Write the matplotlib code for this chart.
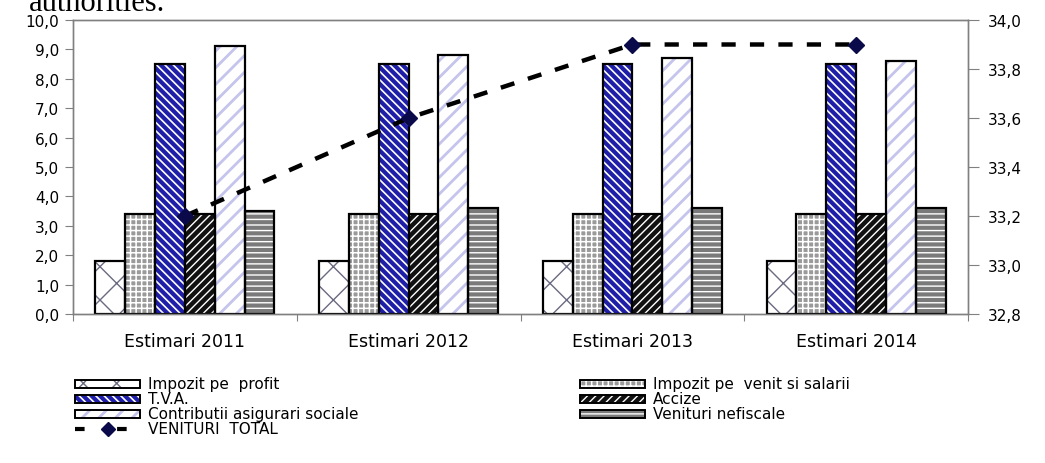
import matplotlib
matplotlib.use("Agg")
import matplotlib.pyplot as plt
from matplotlib.patches import Rectangle
from matplotlib.lines import Line2D
from matplotlib.ticker import FuncFormatter, FixedLocator
import numpy as np

categories = ["Estimari 2011", "Estimari 2012", "Estimari 2013", "Estimari 2014"]
impozit_profit = [1.8, 1.8, 1.8, 1.8]
impozit_venit = [3.4, 3.4, 3.4, 3.4]
tva = [8.5, 8.5, 8.5, 8.5]
accize = [3.4, 3.4, 3.4, 3.4]
contributii = [9.1, 8.8, 8.7, 8.6]
venituri_nefiscale = [3.5, 3.6, 3.6, 3.6]
venituri_total = [33.2, 33.6, 33.9, 33.9]

series_names = ["Impozit pe  profit", "Impozit pe  venit si salarii", "T.V.A.",
                "Accize", "Contributii asigurari sociale", "Venituri nefiscale"]
line_name = "VENITURI  TOTAL"

plt.rcParams['font.family'] = ['DejaVu Sans']

W, H = 1045, 464
fig = plt.figure(figsize=(W / 100, H / 100), dpi=100)
ax = fig.add_axes([73 / W, 1 - 315 / H, (968 - 73) / W, (315 - 21) / H])
ax2 = ax.twinx()

# (face, hatch colour, hatch, hatch linewidth)
styles = [
    ("white", "#6a6a80", "x", 1.0),
    ("#9a9a9a", "white", "+++", 1.1),
    ("#1e1ea8", "white", "\\\\\\\\", 1.2),
    ("#111111", "white", "////", 1.0),
    ("white", "#c4c4ec", "//", 2.0),
    ("#7a7a7a", "white", "---", 1.0),
]
data = [impozit_profit, impozit_venit, tva, accize, contributii, venituri_nefiscale]


def hatched(artist, hlw):
    if hasattr(artist, "set_hatch_linewidth"):
        artist.set_hatch_linewidth(hlw)


x = np.arange(len(categories))
w = 0.8 / 6
for i, (vals, (fc, hc, h, hlw)) in enumerate(zip(data, styles)):
    pos = x + (i - 2.5) * w
    with plt.rc_context({'hatch.linewidth': hlw}):
        bars = ax.bar(pos, vals, w, color=fc, edgecolor=hc, hatch=h, linewidth=0, zorder=2)
    for b in bars:
        hatched(b, hlw)
    ax.bar(pos, vals, w, fill=False, edgecolor="black", linewidth=1.6, zorder=3)

ax.set_xlim(-0.5, 3.5)
ax.set_ylim(0, 10)
ax.set_yticks(np.arange(0, 10.01, 1.0))
fmt = FuncFormatter(lambda v, p: f"{v:.1f}".replace(".", ","))
ax.yaxis.set_major_formatter(fmt)
ax.xaxis.set_major_locator(FixedLocator([-0.5, 0.5, 1.5, 2.5, 3.5]))
ax.xaxis.set_major_formatter(FuncFormatter(lambda v, p: ""))
ax.xaxis.set_minor_locator(FixedLocator(list(x)))
ax.set_xticklabels(categories, minor=True)
ax.tick_params(axis="x", which="minor", length=0, pad=13, labelsize=12.5)
ax.tick_params(axis="x", which="major", length=5, color="#808080")
ax.tick_params(axis="y", length=6, color="#808080", labelsize=11, pad=4)

ax2.set_ylim(32.8, 34.0)
ax2.set_yticks(np.arange(32.8, 34.01, 0.2))
ax2.yaxis.set_major_formatter(fmt)
ax2.tick_params(axis="y", length=8, color="#808080", labelsize=11, pad=6)
ax2.plot(x, venituri_total, color="black", linestyle=(0, (3.2, 3.2)), linewidth=3.2,
         marker="D", markersize=8, markerfacecolor="#0a0a4a", markeredgecolor="#0a0a4a", zorder=5)

for a in (ax, ax2):
    for s in a.spines.values():
        s.set_color("#808080")
        s.set_linewidth(1.0)

# manual legend (two columns)
tf = fig.transFigure
hw, hh = 65, 8
entries = [
    (0, 75, 385), (2, 75, 400), (4, 75, 415),
    (1, 580, 385), (3, 580, 400), (5, 580, 415),
]
for idx, x0, yc in entries:
    fc, hc, h, hlw = styles[idx]
    with plt.rc_context({'hatch.linewidth': hlw}):
        r = Rectangle((x0 / W, 1 - (yc + hh / 2) / H), hw / W, hh / H, transform=tf,
                      facecolor=fc, edgecolor=hc, hatch=h, linewidth=0)
    hatched(r, hlw)
    fig.add_artist(r)
    fig.add_artist(Rectangle((x0 / W, 1 - (yc + hh / 2) / H), hw / W, hh / H, transform=tf,
                             facecolor="none", edgecolor="black", linewidth=1.4))
    fig.text((x0 + hw + 8) / W, 1 - yc / H, series_names[idx], fontsize=11,
             va="center", ha="left")

yl = 1 - 430 / H
fig.add_artist(Line2D([75 / W, 108 / W, 141 / W], [yl, yl, yl], transform=tf,
                      color="black", linestyle=(0, (2.3, 7.8)), linewidth=3,
                      marker="D", markersize=7, markevery=[1],
                      markerfacecolor="#0a0a4a", markeredgecolor="#0a0a4a"))
fig.text((75 + hw + 8) / W, yl, line_name, fontsize=11, va="center", ha="left")

fig.text(29 / W, 1 - 11 / H, "authorities.", fontfamily="Liberation Serif", fontsize=22,
         va="baseline", ha="left")

fig.savefig("out.png", dpi=100)
